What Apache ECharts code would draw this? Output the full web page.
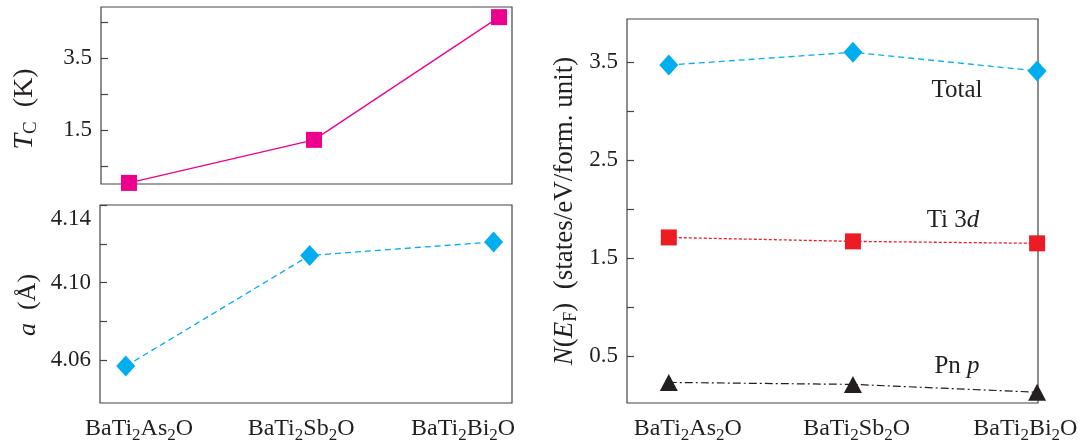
<!DOCTYPE html>
<html><head><meta charset="utf-8">
<script src="https://cdn.jsdelivr.net/npm/echarts@6/dist/echarts.min.js"></script>
<style>html,body{margin:0;padding:0;background:#fff}#c{width:1081px;height:445px}</style>
</head><body><div id="c"></div>
<script>
const categories = ['BaTi2As2O', 'BaTi2Sb2O', 'BaTi2Bi2O'];
const tcValues = [0.05, 1.24, 4.63];
const aValues = [4.057, 4.114, 4.121];
const totalValues = [3.47, 3.60, 3.41];
const ti3dValues = [1.71, 1.67, 1.65];
const pnpValues = [0.23, 0.21, 0.13];
const tcTicks = [0.5, 1.5, 2.5, 3.5, 4.5];
const tcLabels = [1.5, 3.5];
const aTicks = [4.06, 4.08, 4.10, 4.12, 4.14];
const aLabels = [4.06, 4.10, 4.14];
const nTicks = [0.5, 1.0, 1.5, 2.0, 2.5, 3.0, 3.5];
const nLabels = [0.5, 1.5, 2.5, 3.5];
const catIdx = [0, 1, 2];

const FONT = 'Liberation Serif';
const TXT = '#231F20';
const FRAME = '#444';
const pts = vals => vals.map((v, i) => [catIdx[i], v]);
const subCat = v => categories[Math.round(v)].replace(/(\d)/g, '{s|$1}');
const catRich = { s: { fontSize: 17, fontFamily: FONT, color: TXT, padding: [13, 0, 0, 0] } };

function yAxis(grid, min, max, ticks, labels, fmt, rich) {
  return {
    type: 'value', gridIndex: grid, min: min, max: max,
    splitLine: { show: false },
    axisLine: { show: false, onZero: false },
    axisTick: { show: true, inside: true, length: 7, customValues: ticks, lineStyle: { color: FRAME, width: 1.2 } },
    axisLabel: { show: true, customValues: labels, margin: 9, fontFamily: FONT, fontSize: 23, color: TXT, formatter: fmt, rich: rich }
  };
}
function xMain(grid, min, max) {
  return { type: 'value', gridIndex: grid, min: min, max: max, splitLine: { show: false },
    axisLine: { show: false, onZero: false }, axisTick: { show: false }, axisLabel: { show: false } };
}
function xLabels(grid, min, max) {
  return { type: 'value', gridIndex: grid, min: min, max: max, position: 'bottom', splitLine: { show: false },
    axisLine: { show: false, onZero: false }, axisTick: { show: false },
    axisLabel: { show: true, customValues: catIdx, margin: 11, fontFamily: FONT, fontSize: 24, color: TXT,
      formatter: subCat, rich: catRich } };
}

const chart = echarts.init(document.getElementById('c'), null, { renderer: 'canvas' });
chart.setOption({
  animation: false,
  backgroundColor: '#fff',
  grid: [
    { left: 101, top: 7, width: 411, height: 177, show: true, borderColor: FRAME, borderWidth: 1.2, backgroundColor: 'transparent' },
    { left: 100, top: 205, width: 412, height: 198, show: true, borderColor: FRAME, borderWidth: 1.2, backgroundColor: 'transparent' },
    { left: 627, top: 19, width: 411, height: 384, show: true, borderColor: FRAME, borderWidth: 1.2, backgroundColor: 'transparent' }
  ],
  xAxis: [
    xMain(0, -0.151, 2.07),
    xMain(1, -0.14, 2.10),
    xMain(2, -0.227, 2.005),
    xLabels(1, -0.241, 2.302),
    xLabels(2, -0.36, 2.075)
  ],
  yAxis: [
    yAxis(0, 0.02, 4.91, tcTicks, tcLabels, v => v.toFixed(1)),
    yAxis(1, 4.038, 4.14, aTicks, aLabels, v => v > 4.135 ? '{t|' + v.toFixed(2) + '}' : v.toFixed(2),
      { t: { fontFamily: FONT, fontSize: 23, color: TXT, padding: [28, 0, 0, 0] } }),
    yAxis(2, 0.02, 3.94, nTicks, nLabels, v => v.toFixed(1))
  ],
  series: [
    { type: 'line', xAxisIndex: 0, yAxisIndex: 0, data: pts(tcValues), clip: false,
      symbol: 'rect', symbolSize: 16, itemStyle: { color: '#EC008C' },
      lineStyle: { color: '#EC008C', width: 1.3 } },
    { type: 'line', xAxisIndex: 1, yAxisIndex: 1, data: pts(aValues), clip: false,
      symbol: 'diamond', symbolSize: [19, 21], itemStyle: { color: '#00AEEF' },
      lineStyle: { color: '#00AEEF', width: 1.3, type: [6, 4] } },
    { type: 'line', xAxisIndex: 2, yAxisIndex: 2, data: pts(totalValues), clip: false,
      symbol: 'diamond', symbolSize: [19, 21], itemStyle: { color: '#00AEEF' },
      lineStyle: { color: '#00AEEF', width: 1.3, type: [6, 4] } },
    { type: 'line', xAxisIndex: 2, yAxisIndex: 2, data: pts(ti3dValues), clip: false,
      symbol: 'rect', symbolSize: 16, itemStyle: { color: '#ED1C24' },
      lineStyle: { color: '#ED1C24', width: 1.3, type: [3, 2] } },
    { type: 'line', xAxisIndex: 2, yAxisIndex: 2, data: pts(pnpValues), clip: false,
      symbol: 'triangle', symbolSize: [18, 17], itemStyle: { color: '#231F20' },
      lineStyle: { color: '#231F20', width: 1.2, type: [8, 3, 2, 3] } }
  ],
  graphic: [
    { type: 'text', x: 25, y: 109, rotation: Math.PI / 2,
      style: { text: '{i|T}{s|C}  (K)', fill: TXT, font: '28px ' + FONT, align: 'center', verticalAlign: 'middle',
        rich: { i: { fontFamily: FONT, fontSize: 28, fontStyle: 'italic', fill: TXT }, s: { fontFamily: FONT, fontSize: 19, fill: TXT, padding: [13, 0, 0, 0] } } } },
    { type: 'text', x: 28, y: 305, rotation: Math.PI / 2,
      style: { text: '{i|a}  (Å)', fill: TXT, font: '26px ' + FONT, align: 'center', verticalAlign: 'middle',
        rich: { i: { fontFamily: FONT, fontSize: 26, fontStyle: 'italic', fill: TXT } } } },
    { type: 'text', x: 565, y: 211, rotation: Math.PI / 2,
      style: { text: '{i|N}({i|E}{s|F})  (states/eV/form. unit)', fill: TXT, font: '27px ' + FONT, align: 'center', verticalAlign: 'middle',
        rich: { i: { fontFamily: FONT, fontSize: 27, fontStyle: 'italic', fill: TXT }, s: { fontFamily: FONT, fontSize: 18, fill: TXT, padding: [12, 0, 0, 0] } } } },
    { type: 'text', x: 957, y: 90,
      style: { text: 'Total', fill: TXT, font: '25px ' + FONT, align: 'center', verticalAlign: 'middle' } },
    { type: 'text', x: 953, y: 220,
      style: { text: 'Ti 3{i|d}', fill: TXT, font: '25px ' + FONT, align: 'center', verticalAlign: 'middle',
        rich: { i: { fontFamily: FONT, fontSize: 25, fontStyle: 'italic', fill: TXT } } } },
    { type: 'text', x: 957, y: 366,
      style: { text: 'Pn {i|p}', fill: TXT, font: '25px ' + FONT, align: 'center', verticalAlign: 'middle',
        rich: { i: { fontFamily: FONT, fontSize: 25, fontStyle: 'italic', fill: TXT } } } }
  ]
});
</script></body></html>
